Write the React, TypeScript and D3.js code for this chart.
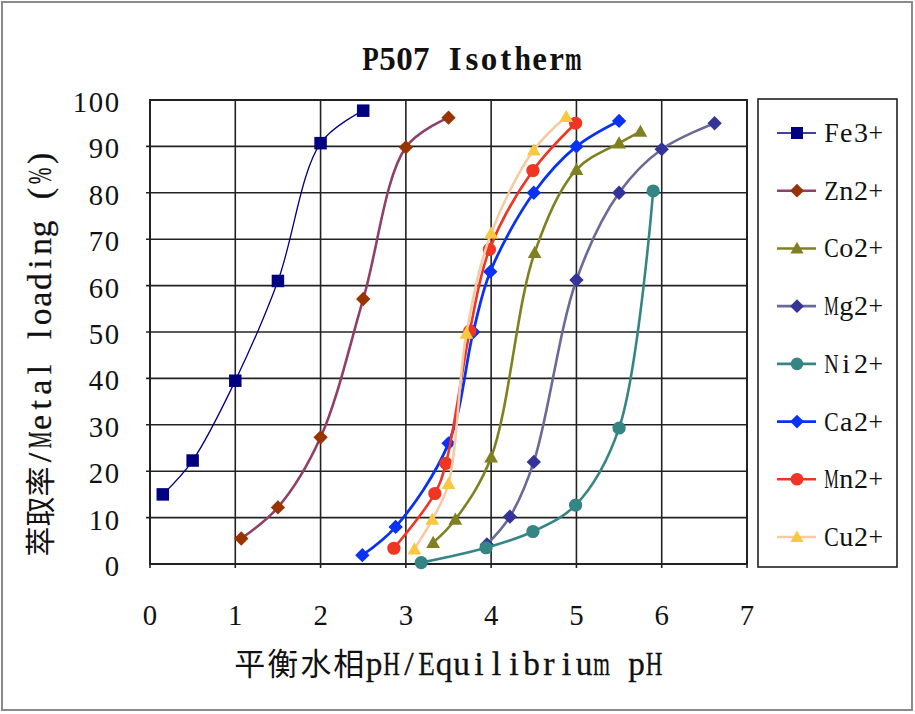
import React, { useEffect, useRef } from "react";
import * as d3 from "d3";

// series order follows the legend
const seriesNames = ["Fe3+", "Zn2+", "Co2+", "Mg2+", "Ni2+", "Ca2+", "Mn2+", "Cu2+"];

const fePH = [0.15, 0.5, 1, 1.5, 2, 2.5];
const feLoad = [15, 22.3, 39.5, 61, 90.7, 97.7];
const znPH = [1.07, 1.5, 2, 2.5, 3, 3.5];
const znLoad = [5.5, 12.2, 27.3, 57.1, 89.8, 96.2];
const coPH = [3.32, 3.58, 4, 4.51, 5, 5.5, 5.75];
const coLoad = [4.6, 9.6, 23, 67.1, 85, 90.7, 93.2];
const mgPH = [3.95, 4.22, 4.5, 5, 5.5, 6, 6.62];
const mgLoad = [4.2, 10.2, 22, 61.2, 80, 89.4, 95];
const niPH = [3.18, 3.94, 4.49, 4.99, 5.5, 5.9];
const niLoad = [0.3, 3.5, 7, 12.7, 29.3, 80.4];
const caPH = [2.49, 2.88, 3.5, 3.79, 3.99, 4.5, 5, 5.5];
const caLoad = [1.9, 8, 26, 50, 63, 80, 90, 95.5];
const mnPH = [2.86, 3.34, 3.47, 3.75, 3.98, 4.49, 4.99];
const mnLoad = [3.4, 15.2, 21.7, 50.2, 67.8, 84.8, 95];
const cuPH = [3.1, 3.31, 3.5, 3.71, 4, 4.5, 4.88];
const cuLoad = [3.2, 9.6, 17.3, 49.7, 71.3, 89.2, 96.4];

const xTicks = [0, 1, 2, 3, 4, 5, 6, 7];
const yTicks = [0, 10, 20, 30, 40, 50, 60, 70, 80, 90, 100];

type Shape = "square" | "diamond" | "triangle" | "circle";

interface Series {
  name: string;
  ph: number[];
  load: number[];
  line: string;
  marker: string;
  shape: Shape;
  lineWidth: number;
}

const series: Series[] = [
  { name: seriesNames[0], ph: fePH, load: feLoad, line: "#000080", marker: "#000080", shape: "square", lineWidth: 1.3 },
  { name: seriesNames[1], ph: znPH, load: znLoad, line: "#8f4068", marker: "#993300", shape: "diamond", lineWidth: 2.6 },
  { name: seriesNames[2], ph: coPH, load: coLoad, line: "#808020", marker: "#808020", shape: "triangle", lineWidth: 2.6 },
  { name: seriesNames[3], ph: mgPH, load: mgLoad, line: "#6a6a98", marker: "#333399", shape: "diamond", lineWidth: 2.6 },
  { name: seriesNames[4], ph: niPH, load: niLoad, line: "#358585", marker: "#358585", shape: "circle", lineWidth: 2.6 },
  { name: seriesNames[5], ph: caPH, load: caLoad, line: "#0a32f5", marker: "#0a32f5", shape: "diamond", lineWidth: 2.8 },
  { name: seriesNames[6], ph: mnPH, load: mnLoad, line: "#f03522", marker: "#f03522", shape: "circle", lineWidth: 2.6 },
  { name: seriesNames[7], ph: cuPH, load: cuLoad, line: "#f5cba4", marker: "#f7c840", shape: "triangle", lineWidth: 2.6 },
];

const SERIF = "'Liberation Serif', 'Times New Roman', serif";
const CJK = "'Noto Sans CJK SC', sans-serif";
const INK = "#111";

const markerPath = (shape: Shape, s: number) => {
  const h = s / 2;
  switch (shape) {
    case "square":
      return `M${-h},${-h}H${h}V${h}H${-h}Z`;
    case "diamond":
      return `M0,${-h * 1.15}L${h * 1.15},0L0,${h * 1.15}L${-h * 1.15},0Z`;
    case "triangle":
      return `M0,${-h * 1.1}L${h * 1.1},${h * 0.85}L${-h * 1.1},${h * 0.85}Z`;
    default:
      return d3.arc()({ innerRadius: 0, outerRadius: h * 1.05, startAngle: 0, endAngle: 2 * Math.PI } as any) || "";
  }
};

const isCJK = (ch: string) => /[\u3000-\u9fff\uff00-\uffef]/.test(ch);

interface MonoOpts {
  x: number;
  y: number;
  anchor: "start" | "middle" | "end";
  cell: number;
  size: number;
  fill?: number;
  cjkCell?: number;
  cjkSize?: number;
  weight?: string;
  stroke?: number;
}

// fixed-pitch text: every glyph sits centred in its own cell (half-width latin, full-width CJK);
// wide latin glyphs get squeezed so they stay inside their cell
function monoText(parent: d3.Selection<any, unknown, null, undefined>, str: string, o: MonoOpts) {
  const chars = Array.from(str);
  const widths = chars.map((ch) => (isCJK(ch) ? o.cjkCell ?? o.cell * 2 : o.cell));
  const total = d3.sum(widths);
  let cx = o.anchor === "start" ? o.x : o.anchor === "middle" ? o.x - total / 2 : o.x - total;
  chars.forEach((ch, i) => {
    const w = widths[i];
    if (ch !== " ") {
      const cjk = isCJK(ch);
      const t = parent
        .append("text")
        .attr("transform", `translate(${cx + w / 2},${o.y})`)
        .attr("text-anchor", "middle")
        .attr("font-family", cjk ? CJK : SERIF)
        .attr("font-size", cjk ? o.cjkSize ?? o.size : o.size)
        .attr("font-weight", o.weight ?? "normal")
        .attr("fill", INK)
        .text(ch);
      if (!cjk) {
        if (o.stroke) t.attr("stroke", INK).attr("stroke-width", o.stroke);
        const node = t.node() as SVGTextElement;
        const gw = node.getComputedTextLength ? node.getComputedTextLength() : 0;
        const sx = gw > 0 ? Math.min(1, ((o.fill ?? 0.9) * w) / gw) : 1;
        t.attr("transform", `translate(${cx + w / 2},${o.y}) scale(${sx},1)`);
      }
    }
    cx += w;
  });
}

export default function App() {
  const ref = useRef<SVGSVGElement>(null);

  useEffect(() => {
    if (!ref.current) return;
    const svg = d3.select(ref.current);
    svg.selectAll("*").remove();

    const x = d3.scaleLinear().domain([0, 7]).range([150, 747]);
    const y = d3.scaleLinear().domain([0, 100]).range([564, 100]);

    // outer chart frame
    svg
      .append("rect")
      .attr("x", 2)
      .attr("y", 2)
      .attr("width", 910)
      .attr("height", 708)
      .attr("fill", "#fff")
      .attr("stroke", "#8a8a8a")
      .attr("stroke-width", 2);

    // title
    monoText(svg, "P507 Isotherm", {
      x: 472,
      y: 70,
      anchor: "middle",
      cell: 16.9,
      size: 33,
      fill: 0.98,
      weight: "bold",
    });

    // grid
    const grid = svg.append("g").attr("stroke", "#222").attr("stroke-width", 1.6);
    xTicks.slice(1, -1).forEach((t) => {
      grid.append("line").attr("x1", x(t)).attr("x2", x(t)).attr("y1", y(0)).attr("y2", y(100));
    });
    yTicks.slice(1, -1).forEach((t) => {
      grid.append("line").attr("x1", x(0) - 4).attr("x2", x(7)).attr("y1", y(t)).attr("y2", y(t));
    });
    xTicks.forEach((t) => {
      grid.append("line").attr("x1", x(t)).attr("x2", x(t)).attr("y1", y(0)).attr("y2", y(0) + 4);
    });
    svg
      .append("rect")
      .attr("x", x(0))
      .attr("y", y(100))
      .attr("width", x(7) - x(0))
      .attr("height", y(0) - y(100))
      .attr("fill", "none")
      .attr("stroke", "#222")
      .attr("stroke-width", 2);

    // tick labels
    yTicks.forEach((t) => {
      monoText(svg, String(t), { x: 120, y: y(t) + 12, anchor: "end", cell: 16, size: 29 });
    });
    xTicks.forEach((t) => {
      monoText(svg, String(t), { x: x(t), y: 625, anchor: "middle", cell: 16, size: 29 });
    });

    // axis titles
    monoText(svg, "平衡水相pH/Equilibrium pH", {
      x: 448,
      y: 675,
      anchor: "middle",
      cell: 17.5,
      size: 34,
      fill: 0.95,
      cjkCell: 33,
      cjkSize: 31,
      stroke: 0.3,
    });

    const yTitle = svg.append("g").attr("transform", "translate(51,353) rotate(-90)");
    monoText(yTitle, "萃取率/Metal loading (%)", {
      x: 0,
      y: 0,
      anchor: "middle",
      cell: 17.6,
      size: 34,
      fill: 0.95,
      cjkCell: 30,
      cjkSize: 30,
      stroke: 0.3,
    });

    // series
    const line = d3
      .line<[number, number]>()
      .x((d) => x(d[0]))
      .y((d) => y(d[1]))
      .curve(d3.curveCatmullRom.alpha(0.5));

    series.forEach((s) => {
      const pts: [number, number][] = s.ph.map((p, i) => [p, s.load[i]]);
      const g = svg.append("g");
      g.append("path")
        .attr("d", line(pts) || "")
        .attr("fill", "none")
        .attr("stroke", s.line)
        .attr("stroke-width", s.lineWidth);
      g.selectAll("path.m")
        .data(pts)
        .join("path")
        .attr("class", "m")
        .attr("transform", (d) => `translate(${x(d[0])},${y(d[1])})`)
        .attr("d", markerPath(s.shape, 12.5))
        .attr("fill", s.marker);
    });

    // legend
    svg
      .append("rect")
      .attr("x", 758)
      .attr("y", 99)
      .attr("width", 139)
      .attr("height", 468)
      .attr("fill", "#fff")
      .attr("stroke", "#222")
      .attr("stroke-width", 1.6);

    const legendY = d3.scalePoint<string>().domain(seriesNames).range([133, 537]);
    series.forEach((s) => {
      const ly = legendY(s.name) || 0;
      const g = svg.append("g").attr("transform", `translate(0,${ly})`);
      g.append("line")
        .attr("x1", 777)
        .attr("x2", 816)
        .attr("stroke", s.line)
        .attr("stroke-width", s.lineWidth);
      g.append("path")
        .attr("transform", "translate(797,0)")
        .attr("d", markerPath(s.shape, 12))
        .attr("fill", s.marker);
      monoText(g, s.name, { x: 824, y: 9, anchor: "start", cell: 14.8, size: 28, fill: 0.98 });
    });
  }, []);

  return (
    <div style={{ position: "absolute", left: 0, top: 0 }}>
      <svg ref={ref} width={915} height={714} style={{ display: "block" }} />
    </div>
  );
}
